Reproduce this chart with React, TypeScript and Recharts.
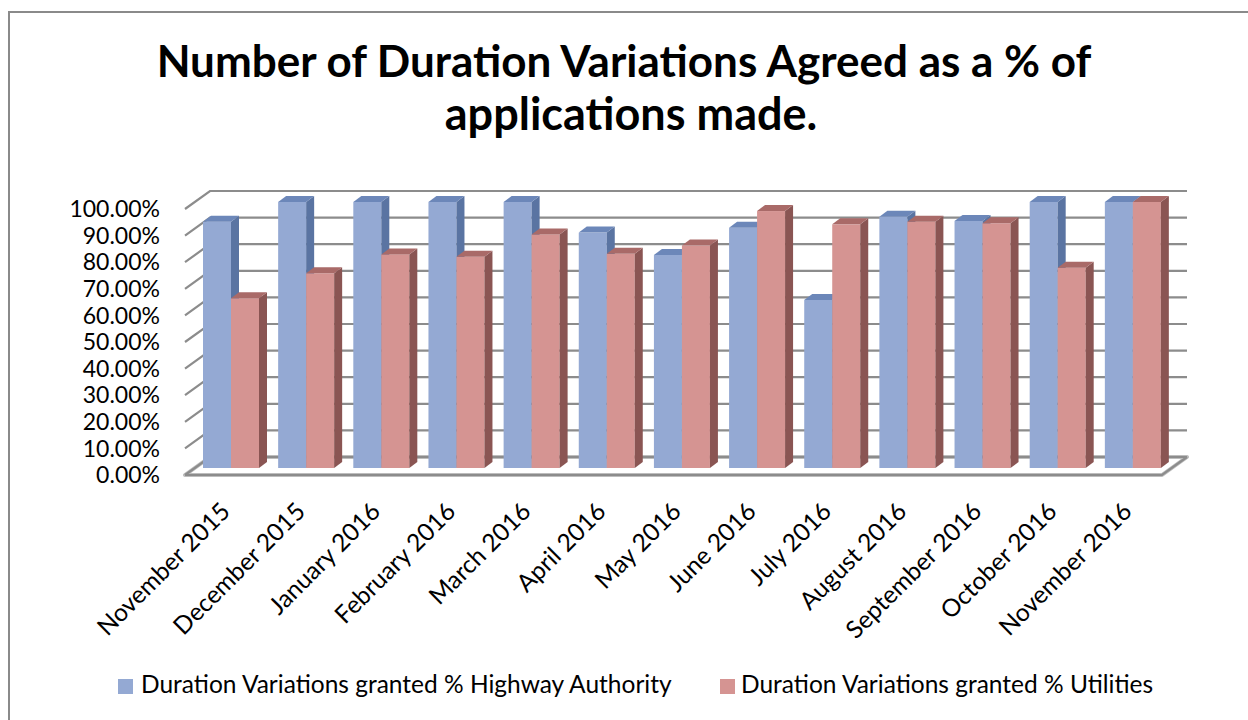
import React from 'react';
import { BarChart, Bar, XAxis, YAxis, CartesianGrid } from 'recharts';

const months = [
  'November 2015', 'December 2015', 'January 2016', 'February 2016', 'March 2016',
  'April 2016', 'May 2016', 'June 2016', 'July 2016', 'August 2016',
  'September 2016', 'October 2016', 'November 2016',
];
const highwayAuthority = [0.926, 1, 1, 1, 1, 0.885, 0.801, 0.903, 0.632, 0.945, 0.929, 1, 1];
const utilities = [0.638, 0.732, 0.803, 0.794, 0.878, 0.805, 0.836, 0.966, 0.916, 0.926, 0.92, 0.753, 1];
const yTicks = [0, 0.1, 0.2, 0.3, 0.4, 0.5, 0.6, 0.7, 0.8, 0.9, 1];
const titleLines = ['Number of Duration Variations Agreed as a % of', 'applications made.'];
const seriesNames = ['Duration Variations granted % Highway Authority', 'Duration Variations granted % Utilities'];

const data = months.map((m, i) => ({ month: m, hwy: highwayAuthority[i], utl: utilities[i] }));

const FONT = 'Lato, "Open Sans", sans-serif';
const W = 1248;
const H = 720;
const PLOT_BOTTOM = 475;
const WALL_DX = 25;
const WALL_DY = 18;
const BAR_SHIFT_X = 8;
const BAR_SHIFT_Y = 7;
const BAR_DX = 8;
const BAR_DY = 6;
const GRID = '#8c8c8c';

const BLUE = { front: '#94A9D3', top: '#6C87B9', side: '#5A74A2' };
const RED = { front: '#D59492', top: '#A96A68', side: '#8A5553' };

const make3DBar = (c: { front: string; top: string; side: string }) => (props: any) => {
  const { x, y, width, height } = props;
  if (width == null || height == null) return null;
  const fx = x + BAR_SHIFT_X;
  const fy = y - BAR_SHIFT_Y;
  const top = `M${fx},${fy} L${fx + BAR_DX},${fy - BAR_DY} L${fx + width + BAR_DX},${fy - BAR_DY} L${fx + width},${fy} Z`;
  const side = `M${fx + width},${fy} L${fx + width + BAR_DX},${fy - BAR_DY} L${fx + width + BAR_DX},${fy + height - BAR_DY} L${fx + width},${fy + height} Z`;
  return (
    <g>
      <rect x={fx} y={fy} width={width} height={height} fill={c.front} />
      <path d={side} fill={c.side} />
      <path d={top} fill={c.top} />
    </g>
  );
};

const gridLine = (props: any) => {
  const { x1, y1, x2, index } = props;
  const isFloor = Math.abs(y1 - PLOT_BOTTOM) < 0.5;
  const d = `M${x1},${y1} L${x1 + WALL_DX},${y1 - WALL_DY} L${x2 + WALL_DX},${y1 - WALL_DY}`;
  return (
    <g key={`g-${index}-${y1}`}>
      {isFloor && (
        <path
          d={`M${x1},${y1} L${x2},${y1} L${x2 + WALL_DX},${y1 - WALL_DY} L${x1 + WALL_DX},${y1 - WALL_DY} Z`}
          fill="#ffffff"
          stroke="#bdbdbd"
          strokeWidth={4}
          strokeLinejoin="round"
        />
      )}
      <path d={d} fill="none" stroke={GRID} strokeWidth={2.2} />
      {isFloor && (
        <path
          d={`M${x1},${y1} L${x2},${y1} L${x2 + WALL_DX},${y1 - WALL_DY}`}
          fill="none"
          stroke={GRID}
          strokeWidth={2.2}
        />
      )}
    </g>
  );
};

const XTick = (props: any) => {
  const { x, y, payload } = props;
  const ax = x + 9;
  const ay = y + 38;
  return (
    <text
      x={ax}
      y={ay}
      textAnchor="end"
      transform={`rotate(-45, ${ax}, ${ay})`}
      fontFamily={FONT}
      fontSize={24.5}
      fill="#000"
    >
      {payload.value}
    </text>
  );
};

export default function App() {
  return (
    <div style={{ position: 'absolute', left: 0, top: 0, width: W, height: H, background: '#fff', overflow: 'hidden' }}>
      <BarChart
        width={W}
        height={H}
        data={data}
        margin={{ top: 209, right: 86, bottom: H - PLOT_BOTTOM - 100, left: 85 }}
        barCategoryGap={10}
        barGap={0}
      >
        <CartesianGrid vertical={false} horizontal={gridLine} />
        <XAxis
          dataKey="month"
          height={100}
          interval={0}
          tickLine={false}
          axisLine={false}
          tickSize={0}
          tickMargin={0}
          tick={<XTick />}
        />
        <YAxis
          width={100}
          domain={[0, 1]}
          ticks={yTicks}
          interval={0}
          tickFormatter={(v: number) => `${(v * 100).toFixed(2)}%`}
          tickLine={false}
          axisLine={false}
          tickSize={0}
          tickMargin={25}
          tick={{ fontFamily: FONT, fontSize: 23, fill: '#000' }}
        />
        <Bar dataKey="hwy" name={seriesNames[0]} fill={BLUE.front} isAnimationActive={false} shape={make3DBar(BLUE)} />
        <Bar dataKey="utl" name={seriesNames[1]} fill={RED.front} isAnimationActive={false} shape={make3DBar(RED)} />
      </BarChart>
      <svg
        width={W}
        height={H}
        style={{ position: 'absolute', left: 0, top: 0, pointerEvents: 'none' }}
      >
        <path d={`M9,${H} L9,12 L${W},12`} fill="none" stroke="#8a8a8a" strokeWidth={2} />
        <text x={624} y={77} textAnchor="middle" fontFamily={FONT} fontWeight={700} fontSize={44} fill="#000">
          {titleLines[0]}
        </text>
        <text x={631} y={130} textAnchor="middle" fontFamily={FONT} fontWeight={700} fontSize={45} fill="#000">
          {titleLines[1]}
        </text>
        <rect x={118} y={679} width={15} height={15} fill={BLUE.front} />
        <text x={141} y={693} fontFamily={FONT} fontSize={24.5} fill="#000">{seriesNames[0]}</text>
        <rect x={720} y={679} width={15} height={15} fill={RED.front} />
        <text x={741} y={693} fontFamily={FONT} fontSize={24.5} fill="#000">{seriesNames[1]}</text>
      </svg>
    </div>
  );
}
